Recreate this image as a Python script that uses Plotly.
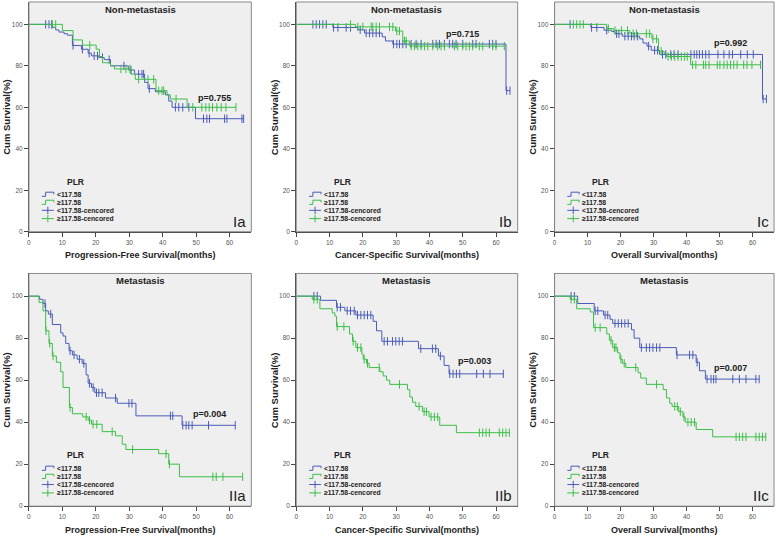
import plotly.graph_objects as go
import numpy as np

# ---------------- data ----------------
# Ia  Non-metastasis, Progression-Free Survival
ia_low_times = [7, 8, 9, 10.5, 11.5, 13, 15.7, 17.7, 18.7, 20.9, 22.5, 24.4, 29.7, 31.6, 34.6, 35.6, 37.8, 40.8, 41.8, 42.8, 49.8]
ia_low_surv = [98.6, 97.3, 96.3, 95.5, 94.8, 89.8, 88, 86.1, 84.8, 84, 83, 80, 78, 76, 72, 69, 67.5, 66, 63, 60, 54.5]
ia_low_cens = [5, 6, 6.8, 13.2, 16, 18, 19.5, 20.5, 22, 24, 28.4, 30.5, 32.8, 33.8, 34.3, 36, 43.8, 44.8, 46, 47.8, 52.2, 53.2, 54, 58.5, 59.2, 63.7, 64.2]
ia_high_times = [10, 13.2, 16, 20.1, 21.1, 22, 24.4, 25.6, 30.6, 31.8, 38, 41.3, 42.3, 47.3]
ia_high_surv = [97, 92.5, 90, 88, 84.5, 81.5, 80, 78.5, 76, 73.5, 68, 66, 64, 60]
ia_high_cens = [7, 8, 18.2, 27.5, 29, 30.2, 32.8, 35.6, 37.3, 38.8, 39.8, 40.3, 44, 49, 51.7, 52.9, 53.9, 54.9, 56.2, 57.5, 58.9, 61.9]

# Ib  Non-metastasis, Cancer-Specific Survival
ib_low_times = [11, 18.5, 20.5, 25.8, 26.8, 29, 63]
ib_low_surv = [98.5, 97.4, 95.8, 94, 92, 90.5, 68]
ib_low_cens = [5, 6, 7, 8, 9, 11.2, 12.5, 15, 16.3, 19.2, 21, 22, 23, 24, 25, 29.2, 30.2, 31, 32, 33, 34.5, 36, 37.5, 41, 42, 43, 44.5, 46, 47, 48, 50, 53, 54, 58, 59, 60, 63.2, 64.2]
ib_high_times = [17.8, 29.8, 32, 34]
ib_high_surv = [98.8, 96.8, 92, 89.5]
ib_high_cens = [16.3, 18.5, 20, 22.5, 23, 24, 25, 28, 29, 30.2, 31, 32.5, 33, 34.5, 35.5, 36.5, 37.5, 38.5, 39.5, 41, 42.5, 43.5, 44.5, 47.5, 48.5, 50, 51, 52, 53, 55, 56, 59, 60, 62.5]

# Ic  Non-metastasis, Overall Survival
ic_low_times = [11, 15, 17.3, 18.3, 20.5, 25.8, 26.8, 28, 29.3, 31.8, 63]
ic_low_surv = [98.5, 97.2, 96.5, 95.5, 94.3, 93, 91, 89.5, 87.5, 85.5, 64]
ic_low_cens = [4.7, 11.2, 12.8, 15.8, 18.8, 19.5, 21.3, 22.3, 23.3, 24.1, 25.1, 28.5, 30.3, 31.2, 32.7, 33.7, 35.2, 36.2, 37.4, 41.3, 42.3, 43.1, 43.9, 44.8, 45.8, 46.8, 49.5, 51.3, 52.9, 53.9, 56.4, 58.4, 60.2, 63.2, 64.2]
ic_high_times = [15.8, 17.8, 22.8, 29.5, 31.5, 33.2, 33.9, 41.2]
ic_high_surv = [98, 97, 95.5, 93, 87, 86, 84.5, 80.5]
ic_high_cens = [5.7, 6.7, 7.7, 8.7, 16.3, 18.3, 20.3, 22.1, 23.8, 24.8, 27.8, 28.8, 29.8, 30.9, 32.3, 34.4, 35.4, 36.4, 37.4, 38.4, 39.4, 40.2, 41.8, 42.8, 45.1, 45.8, 46.8, 49.3, 50.1, 51.3, 52.3, 53.3, 54.3, 55.3, 57.3, 58.3, 59.8, 62.4]

# IIa  Metastasis, Progression-Free Survival
iia_low_times = [3.2, 4.2, 5, 5.8, 7, 9.5, 10.2, 11, 12, 13, 14.4, 15.9, 17.1, 17.7, 18.7, 19.7, 22.9, 26.4, 32, 45.8]
iia_low_surv = [98.5, 96.5, 93, 91.5, 86.5, 82.5, 81, 77.5, 74, 72, 70, 68, 62.5, 58.5, 56.5, 54, 51.5, 49, 43, 38.5]
iia_low_cens = [4.8, 6.5, 12.3, 13.5, 15.1, 16.4, 18.1, 19.2, 20.2, 20.9, 21.9, 25.9, 29.9, 30.8, 42.3, 43, 46, 47, 47.8, 48.8, 53.7, 61.7]
iia_high_times = [3, 4.2, 5, 6, 7, 8.2, 9.5, 10.2, 12.1, 13, 16.1, 17.7, 18.7, 21.9, 25.9, 27.9, 29, 38.8, 41.8, 45]
iia_high_surv = [97, 93, 83.5, 77.5, 71.5, 68.5, 64, 56.5, 47, 44, 42.5, 41, 39, 35.5, 33.5, 29.5, 27, 25, 20, 14]
iia_high_cens = [5.1, 6.2, 7.2, 12.3, 17.1, 18.1, 19.2, 20.3, 24.9, 31, 41, 42, 55, 56, 58, 63.9]

# IIb  Metastasis, Cancer-Specific Survival
iib_low_times = [7.3, 12.1, 14.6, 17.9, 23.1, 24.1, 25.7, 36.7, 42.7, 44.4, 45.9]
iib_low_surv = [98, 94.7, 93, 91, 88, 83.5, 78.5, 75, 71.5, 67, 63]
iib_low_cens = [5.3, 6.3, 12.3, 13.3, 15.3, 16.3, 17.4, 18.4, 19.4, 20.4, 21.4, 22.4, 26.4, 27.4, 28.9, 29.9, 30.9, 31.9, 37.4, 40.9, 41.9, 43.3, 46.1, 47.1, 48.1, 49.1, 54.2, 56.2, 58.2, 62.2]
iib_high_times = [4.8, 7.1, 10.8, 11.6, 12.1, 16, 16.9, 17.9, 19.7, 20.1, 21.1, 21.9, 25.1, 26.1, 27.1, 28.1, 33.4, 34.1, 34.9, 35.9, 37.9, 39.9, 43.1, 48.1]
iib_high_surv = [98.5, 94, 92, 90.5, 85.5, 82, 78.5, 75.5, 72.5, 70, 68, 66, 64, 62, 60, 58, 55.5, 52, 49.5, 47.5, 45, 42.5, 38.5, 35]
iib_high_cens = [5.3, 6.3, 12.3, 14.3, 17.1, 18.4, 19.4, 20.4, 21.4, 24.9, 31, 36.9, 38.4, 39.1, 40.5, 41.5, 42.5, 55, 56, 57, 58, 61, 62, 63, 64]

# IIc  Metastasis, Overall Survival
iic_low_times = [7, 12, 14.8, 16.8, 17.6, 23.3, 24.1, 25.8, 36.9, 42.9, 43.9, 45.7]
iic_low_surv = [96.5, 93, 91, 89, 87, 84, 80, 75.5, 72, 68.5, 64.5, 60.5]
iic_low_cens = [5, 6, 12.3, 13.1, 15.3, 16.1, 18.3, 19.3, 20.3, 21.3, 22.3, 26.3, 27.8, 28.8, 29.8, 30.9, 31.9, 37.1, 40.9, 41.9, 43.2, 46.2, 47.4, 48.2, 48.9, 54, 56, 58, 61, 62]
iic_high_times = [4.7, 6.7, 10.8, 11.8, 15.8, 16.6, 17.6, 19.1, 19.8, 20.5, 21.6, 25.3, 26.1, 27.8, 32.9, 33.9, 34.9, 35.6, 37.6, 38.9, 39.6, 42.9, 47.9]
iic_high_surv = [98.5, 94, 92.5, 85, 82, 79, 75.5, 73, 70, 68, 66, 63.5, 61, 58, 55.5, 51.5, 49, 47.5, 45, 42.5, 40, 36.5, 33]
iic_high_cens = [5, 6, 12.3, 13.8, 17.1, 18.1, 18.6, 20.1, 21.1, 24.6, 30.9, 36.4, 37.2, 38.1, 39.2, 40.4, 41.4, 42.4, 55, 56, 57, 58, 61, 62, 63, 64]

panel_labels = ["Ia", "Ib", "Ic", "IIa", "IIb", "IIc"]
panel_titles = ["Non-metastasis"] * 3 + ["Metastasis"] * 3
x_titles = ["Progression-Free Survival(months)", "Cancer-Specific Survival(months)", "Overall Survival(months)"] * 2
p_values = ["p=0.755", "p=0.715", "p=0.992", "p=0.004", "p=0.003", "p=0.007"]
p_pos = [(55.5, 64.6), (50.0, 95.2), (53.4, 91.0), (53.9, 44.0), (53.5, 69.0), (53.4, 65.8)]
group_names = ["<117.58", "≥117.58", "<117.58-cencored", "≥117.58-cencored"]
x_ticks = [0, 10, 20, 30, 40, 50, 60]
y_ticks = [0, 20, 40, 60, 80, 100]

curves = [
    ((ia_low_times, ia_low_surv, ia_low_cens), (ia_high_times, ia_high_surv, ia_high_cens)),
    ((ib_low_times, ib_low_surv, ib_low_cens), (ib_high_times, ib_high_surv, ib_high_cens)),
    ((ic_low_times, ic_low_surv, ic_low_cens), (ic_high_times, ic_high_surv, ic_high_cens)),
    ((iia_low_times, iia_low_surv, iia_low_cens), (iia_high_times, iia_high_surv, iia_high_cens)),
    ((iib_low_times, iib_low_surv, iib_low_cens), (iib_high_times, iib_high_surv, iib_high_cens)),
    ((iic_low_times, iic_low_surv, iic_low_cens), (iic_high_times, iic_high_surv, iic_high_cens)),
]

# ---------------- style ----------------
BLUE = "#4a5cb8"
GREEN = "#3cbf48"
BG = "#efefef"
SANS = "Liberation Sans, Arial, sans-serif"

X_DOMS = [[0.0347, 0.3213], [0.3792, 0.6645], [0.7121, 0.9949]]
Y_DOMS = [[0.5661, 0.9963], [0.0521, 0.4879]]


def step_xy(times, surv, cens):
    end = max(max(times), max(cens))
    x = [0] + list(times) + [end]
    y = [100] + list(surv) + [surv[-1]]
    return x, y


def cens_y(times, surv, cens):
    t = np.array(times)
    levels = np.concatenate([[100.0], np.array(surv, dtype=float)])
    idx = np.searchsorted(t, np.array(cens), side="right")
    return levels[idx]


fig = go.Figure()
layout = dict(
    width=778, height=537,
    margin=dict(l=0, r=0, t=0, b=0),
    paper_bgcolor="white", plot_bgcolor=BG,
    showlegend=False,
)
annotations = []
shapes = []

for i in range(6):
    suf = "" if i == 0 else str(i + 1)
    xa, ya = "x" + suf, "y" + suf
    row, col = divmod(i, 3)
    low, high = curves[i]
    for (times, surv, cens), color in ((low, BLUE), (high, GREEN)):
        sx, sy = step_xy(times, surv, cens)
        fig.add_trace(go.Scatter(x=sx, y=sy, mode="lines", line=dict(color=color, width=1, shape="hv"),
                                 xaxis=xa, yaxis=ya, hoverinfo="skip"))
        fig.add_trace(go.Scatter(x=cens, y=cens_y(times, surv, cens), mode="markers",
                                 marker=dict(symbol="line-ns", size=6, line=dict(color=color, width=1)),
                                 xaxis=xa, yaxis=ya, hoverinfo="skip"))

    layout["xaxis" + suf] = dict(
        domain=X_DOMS[col], anchor=ya, range=[0, 66.5], tickvals=x_ticks,
        ticks="outside", ticklen=4, tickcolor="#444", showgrid=False, zeroline=False,
        showline=True, linecolor="#444", linewidth=1,
        tickfont=dict(family=SANS, size=6.5, color="#555"),
    )
    layout["yaxis" + suf] = dict(
        domain=Y_DOMS[row], anchor=xa, range=[0, 110.8], tickvals=y_ticks,
        ticks="outside", ticklen=4, tickcolor="#444", showgrid=False, zeroline=False,
        showline=True, linecolor="#444", linewidth=1,
        tickfont=dict(family=SANS, size=6.5, color="#555"),
    )
    xd, yd = xa + " domain", ya + " domain"
    # frame
    shapes.append(dict(type="rect", xref=xd, yref=yd, x0=0, x1=1, y0=0, y1=1,
                       line=dict(color="#8a8a8a", width=1)))
    # title inside plot
    annotations.append(dict(xref=xd, yref=yd, x=0.5, y=0.968, xanchor="center", yanchor="middle",
                            text="<b>%s</b>" % panel_titles[i],
                            showarrow=False, font=dict(family=SANS, size=9.5, color="#222")))
    # axis titles
    annotations.append(dict(xref=xd, yref=yd, x=0.5, y=-0.103, xanchor="center", yanchor="middle",
                            text="<b>%s</b>" % x_titles[i], showarrow=False,
                            font=dict(family=SANS, size=9, color="#222")))
    annotations.append(dict(xref=xd, yref=yd, x=-0.099, y=0.5, xanchor="center", yanchor="middle",
                            textangle=-90, text="<b>Cum Survival(%)</b>", showarrow=False,
                            font=dict(family=SANS, size=9.5, color="#222")))
    # p-value
    annotations.append(dict(xref=xa, yref=ya, x=p_pos[i][0], y=p_pos[i][1], xanchor="center", yanchor="middle",
                            text="<b>%s</b>" % p_values[i],
                            showarrow=False, font=dict(family=SANS, size=9, color="#222")))
    # corner label
    annotations.append(dict(xref=xd, yref=yd, x=0.985, y=0.0, xanchor="right", yanchor="bottom",
                            text=panel_labels[i], showarrow=False,
                            font=dict(family=SANS, size=15, color="#222")))
    # legend
    annotations.append(dict(xref=xd, yref=yd, x=0.21, y=0.218, xanchor="center", yanchor="middle",
                            text="<b>PLR</b>", showarrow=False,
                            font=dict(family=SANS, size=8.5, color="#222")))
    rows_y = [0.163, 0.128, 0.093, 0.057]
    x0, xm, x1 = 0.058, 0.075, 0.112
    h = 0.009
    for k, (name, color) in enumerate(zip(group_names, [BLUE, GREEN, BLUE, GREEN])):
        ry = rows_y[k]
        annotations.append(dict(xref=xd, yref=yd, x=0.116, y=ry, xanchor="left", yanchor="middle",
                                text="<b>%s</b>" % name, showarrow=False,
                                font=dict(family=SANS, size=6.8, color="#222")))
        if k < 2:
            segs = [(x0, ry - h, xm, ry - h), (xm, ry - h, xm, ry + h), (xm, ry + h, x1, ry + h), (x1, ry + h, x1, ry)]
        else:
            segs = [(x0, ry, x1, ry), (0.085, ry - 0.016, 0.085, ry + 0.016)]
        for a, b, c, d in segs:
            shapes.append(dict(type="line", xref=xd, yref=yd, x0=a, y0=b, x1=c, y1=d,
                               line=dict(color=color, width=1)))

layout["annotations"] = annotations
layout["shapes"] = shapes
fig.update_layout(**layout)
fig.write_html("out.html", config={"displayModeBar": False},
               post_script="document.body.style.margin='0px';")
